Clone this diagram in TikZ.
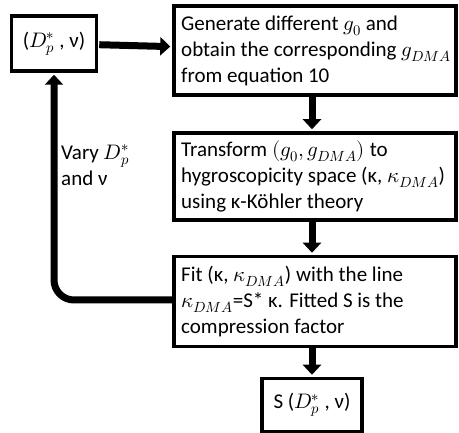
\documentclass[tikz,border=0pt]{standalone}
\usepackage{unicode-math}
\setmainfont{Carlito}
\setmathfont{Latin Modern Math}
\usetikzlibrary{arrows.meta}
\begin{document}
\begin{tikzpicture}[x=1pt,y=-1pt,
 box/.style={draw, line width=3.5pt, inner sep=0pt},
 txt/.style={font=\fontsize{21}{26}\selectfont, inner sep=0pt, align=left},
 flow/.style={line width=7pt, -{Triangle[width=18pt,length=10pt]}}]
\useasboundingbox (0,0) rectangle (459,433);
\node[box, minimum width=85, minimum height=55, txt, align=center] (a) at (54,43.5) {($D_p^*$ , ν)};
\node[box, minimum width=282, minimum height=89] (b) at (315,50.5) {};
\node[txt, anchor=west] (bt) at (181,50.5) {Generate different $g_0$ and\\obtain the corresponding $g_{DMA}$\\from equation 10};
\node[box, minimum width=282, minimum height=87] (c) at (315,176.5) {};
\node[txt, anchor=west] (ct) at (181,176.5) {Transform $(g_0, g_{DMA})$ to\\hygroscopicity space (κ, $\kappa_{DMA}$)\\using κ-Köhler theory};
\node[box, minimum width=282, minimum height=90] (d) at (315,301.5) {};
\node[txt, anchor=west] (dt) at (181,301.5) {Fit (κ, $\kappa_{DMA}$) with the line\\$\kappa_{DMA}$=S* κ. Fitted S is the\\compression factor};
\node[box, minimum width=100, minimum height=53, txt, align=center] (e) at (312,405) {S ($D_p^*$ , ν)};
\node[txt, anchor=west] (lab) at (61,165) {Vary $D_p^*$\\and ν};
\draw[flow, shorten <=1pt, shorten >=2pt] (a) -- (b);
\draw[flow, shorten >=2pt] (b.south -| e) -- (c.north -| e);
\draw[flow, shorten >=2pt] (c.south -| e) -- (d.north -| e);
\draw[flow, shorten >=2pt] (d.south -| e) -- (e.north);
\draw[flow, rounded corners=20pt, shorten >=2pt] (d.west |- 0,300) -| (a.south);
\end{tikzpicture}
\end{document}
